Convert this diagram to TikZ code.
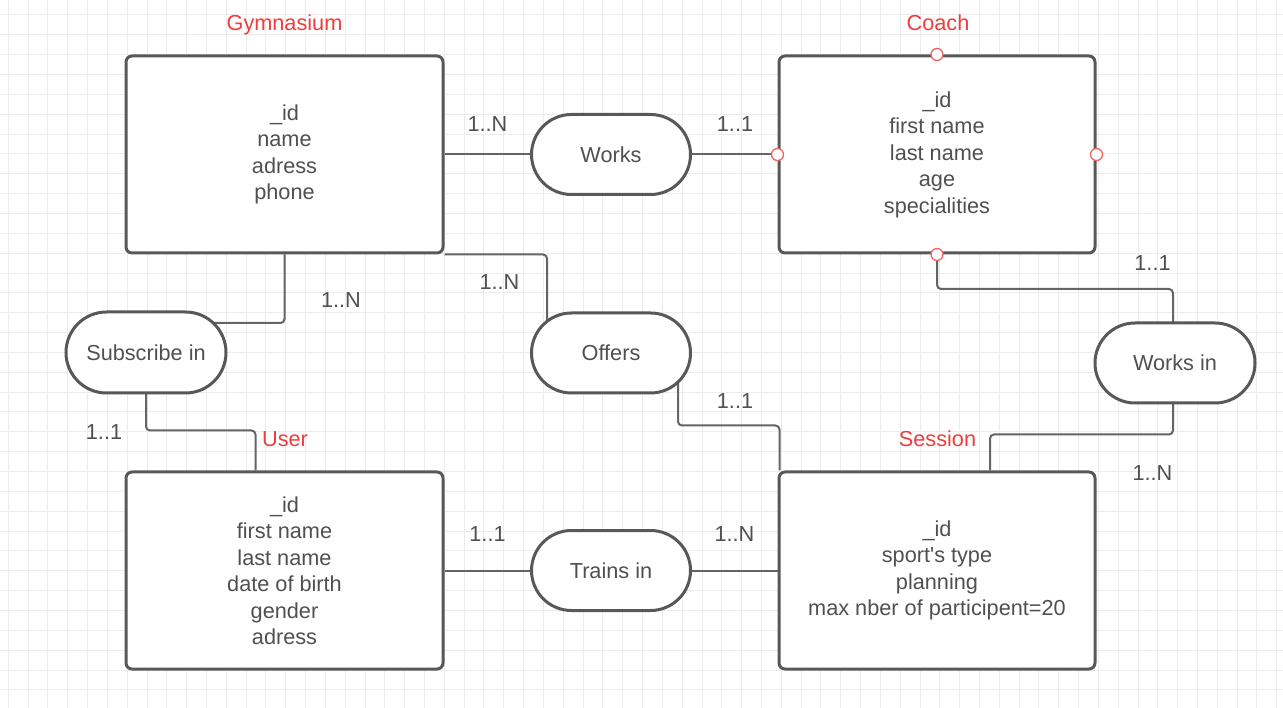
\documentclass[tikz,border=0pt]{standalone}
\usepackage{fontspec}
\setmainfont{Liberation Sans}
\usetikzlibrary{shapes.misc,calc}
\pgfdeclarelayer{bg}
\pgfsetlayers{bg,main}
\definecolor{txt}{RGB}{80,80,80}
\definecolor{edge}{RGB}{88,88,88}
\definecolor{conn}{RGB}{100,100,100}
\definecolor{redlbl}{RGB}{240,60,60}
\definecolor{gridc}{RGB}{236,236,236}
\begin{document}
\begin{tikzpicture}[x=1pt,y=-1pt,
  every node/.style={font=\fontsize{21.7}{26.5}\selectfont, text=txt},
  entity/.style={draw=edge, line width=3pt, fill=white, rounded corners=6pt,
    minimum width=317pt, minimum height=197pt, align=center, inner sep=0pt},
  relation/.style={rounded rectangle, draw=edge, line width=3pt, fill=white,
    minimum width=159pt, minimum height=80pt, inner sep=0pt},
  card/.style={anchor=base},
  title/.style={anchor=base, text=redlbl},
  conline/.style={draw=conn, line width=2pt, rounded corners=4pt},
  handle/.style={circle, draw=redlbl!80, fill=white, line width=1.3pt, minimum size=12pt, inner sep=0pt}]
\useasboundingbox (0,0) rectangle (1283,708);

% entities
\node[entity] (gym) at (284.5,154.5) {\_id\\name\\adress\\phone};
\node[entity, minimum width=316pt] (coach) at (937,154.5) {\_id\\first name\\last name\\age\\specialities};
\node[entity] (user) at (284.5,570.5) {\_id\\first name\\last name\\date of birth\\gender\\adress};
\node[entity, minimum width=316pt] (session) at (937,570.5) {\_id\\sport\textquotesingle s type\\planning\\max nber of participent=20};

% relations
\node[relation] (works) at (611,154.5) {Works};
\node[relation] (offers) at (611,353) {Offers};
\node[relation] (trains) at (611,570.5) {Trains in};
\node[relation, minimum width=160pt, minimum height=81pt] (subscribe) at (146,352.5) {Subscribe in};
\node[relation, minimum width=160pt] (worksin) at (1175,363) {Works in};

% handles on coach
\foreach \a in {north,south,east,west}
  \node[handle] (h\a) at (coach.\a) {};

% titles
\node[title] (tgym) at (284.5,31) {Gymnasium};
\node[title] (tcoach) at (938,31) {Coach};
\node[title] (tuser) at (285,446.7) {User};
\node[title] (tsession) at (937.5,446.7) {Session};

% cardinalities
\node[card] (c1) at (487.5,131.8) {1..N};
\node[card] (c2) at (735,131.8) {1..1};
\node[card] (c3) at (499.5,289.5) {1..N};
\node[card] (c4) at (735,408.5) {1..1};
\node[card] (c5) at (341,307.8) {1..N};
\node[card] (c6) at (104,439.5) {1..1};
\node[card] (c7) at (1152.5,270.5) {1..1};
\node[card] (c8) at (1152.5,480.8) {1..N};
\node[card] (c9) at (487.5,541.8) {1..1};
\node[card] (c10) at (734.5,541.8) {1..N};

\begin{pgfonlayer}{bg}
  \fill[white] (0,0) rectangle (1283,708);
  % grid
  \foreach \i in {0,...,64}
    \draw[gridc, line width=1pt] ({8.3+19.82*\i},0) -- ({8.3+19.82*\i},708);
  \foreach \j in {0,...,35}
    \draw[gridc, line width=1pt] (0,{15+19.85*\j}) -- (1283,{15+19.85*\j});
  % connectors
  \draw[conline] (gym.east) -- (works.west);
  \draw[conline] (works.east) -- (coach.west);
  \draw[conline] (gym.south east) -| ([xshift=-64pt]offers.center);
  \draw[conline] ([xshift=67pt]offers.center) |- ([xshift=2pt,yshift=45pt]session.north west) -- ([xshift=2pt]session.north west);
  \draw[conline] (gym.south) |- ([yshift=29.5pt]subscribe.center) -- (subscribe.center);
  \draw[conline] (subscribe.center) |- ([xshift=131pt,yshift=40pt]user.north west) -- ([xshift=131pt]user.north west);
  \draw[conline] (coach.south) |- ([xshift=-2pt,yshift=74pt]worksin.center) -- ([xshift=-2pt]worksin.center);
  \draw[conline] ([xshift=-2pt]worksin.center) |- ([xshift=53pt,yshift=36pt]session.north) -- ([xshift=53pt]session.north);
  \draw[conline] (user.east) -- (trains.west);
  \draw[conline] (trains.east) -- (session.west);
\end{pgfonlayer}
\end{tikzpicture}
\end{document}
